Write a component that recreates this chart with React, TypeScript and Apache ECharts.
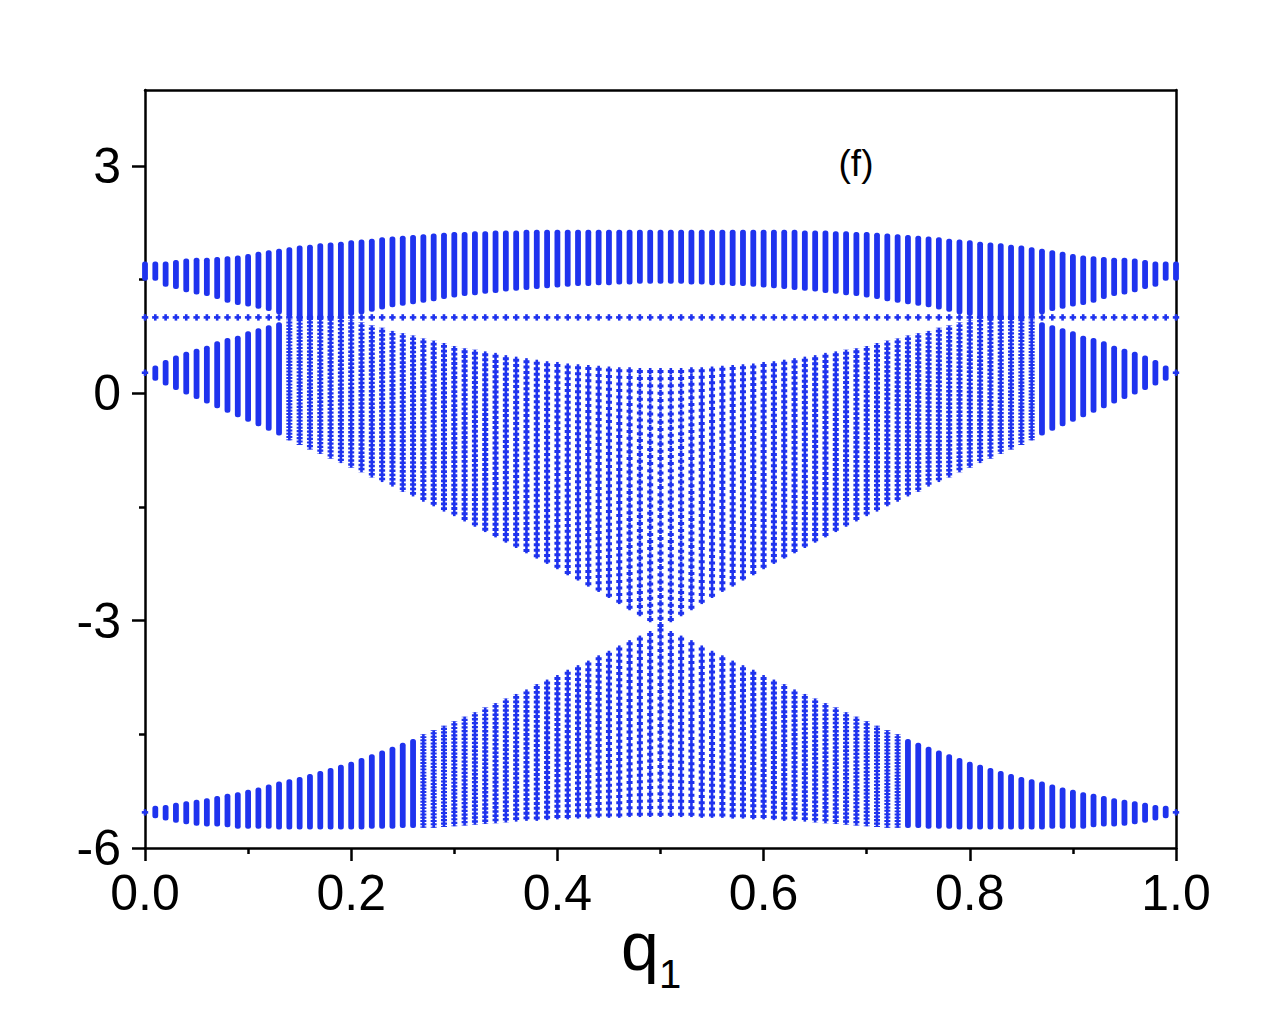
import React, { useEffect, useRef } from 'react';
import * as echarts from 'echarts';

// q1 sampling step (columns at q = 0, 0.01, ..., 1.00)
const Q_STEP = 0.01;

// Upper band (band 1): top and bottom edge per column
const B1_TOP = [
  1.70, 1.70, 1.70, 1.72, 1.74, 1.75, 1.75, 1.76, 1.77, 1.78,
  1.80, 1.83, 1.85, 1.87, 1.89, 1.91, 1.92, 1.94, 1.95, 1.96,
  1.98, 1.99, 2.00, 2.02, 2.03, 2.04, 2.05, 2.06, 2.07, 2.08,
  2.09, 2.09, 2.10, 2.10, 2.11, 2.11, 2.11, 2.12, 2.12, 2.12,
  2.12, 2.12, 2.12, 2.12, 2.12, 2.12, 2.12, 2.12, 2.12, 2.12,
  2.12,
  2.12, 2.12, 2.12, 2.12, 2.12, 2.12, 2.12, 2.12, 2.12, 2.12,
  2.12, 2.12, 2.12, 2.11, 2.11, 2.11, 2.10, 2.10, 2.09, 2.09,
  2.08, 2.07, 2.06, 2.05, 2.04, 2.03, 2.02, 2.00, 1.99, 1.98,
  1.96, 1.95, 1.94, 1.92, 1.91, 1.89, 1.87, 1.85, 1.83, 1.80,
  1.78, 1.77, 1.76, 1.75, 1.75, 1.74, 1.72, 1.70, 1.70, 1.70,
];
const B1_BOT = [
  1.52, 1.52, 1.44, 1.41, 1.37, 1.34, 1.32, 1.28, 1.23, 1.20,
  1.18, 1.15, 1.12, 1.08, 1.04, 1.00, 1.00, 1.00, 1.01, 1.03,
  1.06, 1.08, 1.11, 1.14, 1.17, 1.19, 1.21, 1.23, 1.25, 1.28,
  1.30, 1.32, 1.33, 1.35, 1.36, 1.38, 1.39, 1.40, 1.41, 1.42,
  1.43, 1.44, 1.45, 1.45, 1.46, 1.46, 1.47, 1.47, 1.48, 1.48,
  1.48,
  1.48, 1.48, 1.47, 1.47, 1.46, 1.46, 1.45, 1.45, 1.44, 1.43,
  1.42, 1.41, 1.40, 1.39, 1.38, 1.36, 1.35, 1.33, 1.32, 1.30,
  1.28, 1.25, 1.23, 1.21, 1.19, 1.17, 1.14, 1.11, 1.08, 1.06,
  1.03, 1.01, 1.00, 1.00, 1.00, 1.04, 1.08, 1.12, 1.15, 1.18,
  1.20, 1.23, 1.28, 1.32, 1.34, 1.37, 1.41, 1.44, 1.52, 1.52,
];

// Flat band
const FLAT = [
  1.00, 1.00, 1.00, 1.00, 1.00, 1.00, 1.00, 1.00, 1.00, 1.00,
  1.00, 1.00, 1.00, 1.00, 1.00, 1.00, 1.00, 1.00, 1.00, 1.00,
  1.00, 1.00, 1.00, 1.00, 1.00, 1.00, 1.00, 1.00, 1.00, 1.00,
  1.00, 1.00, 1.00, 1.00, 1.00, 1.00, 1.00, 1.00, 1.00, 1.00,
  1.00, 1.00, 1.00, 1.00, 1.00, 1.00, 1.00, 1.00, 1.00, 1.00,
  1.00,
  1.00, 1.00, 1.00, 1.00, 1.00, 1.00, 1.00, 1.00, 1.00, 1.00,
  1.00, 1.00, 1.00, 1.00, 1.00, 1.00, 1.00, 1.00, 1.00, 1.00,
  1.00, 1.00, 1.00, 1.00, 1.00, 1.00, 1.00, 1.00, 1.00, 1.00,
  1.00, 1.00, 1.00, 1.00, 1.00, 1.00, 1.00, 1.00, 1.00, 1.00,
  1.00, 1.00, 1.00, 1.00, 1.00, 1.00, 1.00, 1.00, 1.00, 1.00,
];

// Middle band (band 2)
const B2_TOP = [
  0.27, 0.33, 0.40, 0.46, 0.51, 0.55, 0.59, 0.65, 0.69, 0.72,
  0.78, 0.82, 0.86, 0.90, 0.93, 0.96, 0.98, 0.98, 0.97, 0.95,
  0.92, 0.89, 0.85, 0.82, 0.78, 0.75, 0.72, 0.68, 0.65, 0.62,
  0.58, 0.55, 0.53, 0.51, 0.49, 0.46, 0.44, 0.42, 0.40, 0.38,
  0.37, 0.35, 0.34, 0.33, 0.32, 0.31, 0.30, 0.30, 0.29, 0.29,
  0.29,
  0.29, 0.29, 0.30, 0.30, 0.31, 0.32, 0.33, 0.34, 0.35, 0.37,
  0.38, 0.40, 0.42, 0.44, 0.46, 0.49, 0.51, 0.53, 0.55, 0.58,
  0.62, 0.65, 0.68, 0.72, 0.75, 0.78, 0.82, 0.85, 0.89, 0.92,
  0.95, 0.97, 0.98, 0.98, 0.96, 0.93, 0.90, 0.86, 0.82, 0.78,
  0.72, 0.69, 0.65, 0.59, 0.55, 0.51, 0.46, 0.40, 0.33, 0.27,
];
const B2_BOT = [
  0.27, 0.20, 0.14, 0.08, 0.02, -0.04, -0.10, -0.16, -0.22, -0.28,
  -0.34, -0.40, -0.46, -0.52, -0.58, -0.64, -0.70, -0.76, -0.82, -0.88,
  -0.94, -1.00, -1.07, -1.13, -1.19, -1.26, -1.32, -1.39, -1.45, -1.52,
  -1.58, -1.65, -1.72, -1.79, -1.86, -1.93, -2.00, -2.07, -2.14, -2.21,
  -2.28, -2.36, -2.43, -2.51, -2.58, -2.66, -2.74, -2.82, -2.90, -2.98,
  -3.06,
  -2.98, -2.90, -2.82, -2.74, -2.66, -2.58, -2.51, -2.43, -2.36, -2.28,
  -2.21, -2.14, -2.07, -2.00, -1.93, -1.86, -1.79, -1.72, -1.65, -1.58,
  -1.52, -1.45, -1.39, -1.32, -1.26, -1.19, -1.13, -1.07, -1.00, -0.94,
  -0.88, -0.82, -0.76, -0.70, -0.64, -0.58, -0.52, -0.46, -0.40, -0.34,
  -0.28, -0.22, -0.16, -0.10, -0.04, 0.02, 0.08, 0.14, 0.20, 0.27,
];

// Lower band (band 3)
const B3_TOP = [
  -5.53, -5.48, -5.47, -5.44, -5.42, -5.40, -5.38, -5.35, -5.32, -5.30,
  -5.27, -5.24, -5.20, -5.16, -5.13, -5.10, -5.06, -5.02, -4.98, -4.94,
  -4.90, -4.85, -4.80, -4.75, -4.70, -4.65, -4.60, -4.54, -4.49, -4.43,
  -4.37, -4.31, -4.25, -4.19, -4.13, -4.07, -4.01, -3.95, -3.88, -3.82,
  -3.76, -3.69, -3.63, -3.57, -3.50, -3.44, -3.37, -3.30, -3.24, -3.18,
  -3.12,
  -3.18, -3.24, -3.30, -3.37, -3.44, -3.50, -3.57, -3.63, -3.69, -3.76,
  -3.82, -3.88, -3.95, -4.01, -4.07, -4.13, -4.19, -4.25, -4.31, -4.37,
  -4.43, -4.49, -4.54, -4.60, -4.65, -4.70, -4.75, -4.80, -4.85, -4.90,
  -4.94, -4.98, -5.02, -5.06, -5.10, -5.13, -5.16, -5.20, -5.24, -5.27,
  -5.30, -5.32, -5.35, -5.38, -5.40, -5.42, -5.44, -5.47, -5.48, -5.53,
];
const B3_BOT = [
  -5.53, -5.57, -5.60, -5.63, -5.65, -5.67, -5.68, -5.68, -5.69, -5.71,
  -5.71, -5.71, -5.71, -5.72, -5.72, -5.72, -5.72, -5.72, -5.72, -5.72,
  -5.72, -5.72, -5.71, -5.71, -5.71, -5.70, -5.70, -5.69, -5.69, -5.68,
  -5.67, -5.66, -5.65, -5.64, -5.63, -5.62, -5.61, -5.60, -5.60, -5.59,
  -5.58, -5.58, -5.57, -5.57, -5.56, -5.56, -5.56, -5.55, -5.55, -5.55,
  -5.55,
  -5.55, -5.55, -5.55, -5.56, -5.56, -5.56, -5.57, -5.57, -5.58, -5.58,
  -5.59, -5.60, -5.60, -5.61, -5.62, -5.63, -5.64, -5.65, -5.66, -5.67,
  -5.68, -5.69, -5.69, -5.70, -5.70, -5.71, -5.71, -5.71, -5.72, -5.72,
  -5.72, -5.72, -5.72, -5.72, -5.72, -5.72, -5.72, -5.71, -5.71, -5.71,
  -5.71, -5.69, -5.68, -5.68, -5.67, -5.65, -5.63, -5.60, -5.57, -5.53,
];

// Number of eigenvalues per column in each band (used for dot spacing)
const BAND_POINTS = [34, 1, 36, 28];

const X_TICK_LABELS = ['0.0', '0.2', '0.4', '0.6', '0.8', '1.0'];
const Y_MAJOR = [-6, -3, 0, 3];
const Y_MINOR = [-4.5, -1.5, 1.5];

const BLUE = '#1f33ee';
const FONT = '"Liberation Sans", Arial, Helvetica, sans-serif';

function buildData() {
  const bands = [
    [B1_BOT, B1_TOP],
    [FLAT, FLAT],
    [B2_BOT, B2_TOP],
    [B3_BOT, B3_TOP],
  ];
  const out: number[][] = [];
  bands.forEach(([lo, hi], b) => {
    lo.forEach((v, i) => {
      const q = +(i * Q_STEP).toFixed(2);
      out.push([q, v, hi[i], BAND_POINTS[b]]);
    });
  });
  return out;
}

function renderColumn(params: any, api: any) {
  const q = api.value(0);
  const lo = api.value(1);
  const hi = api.value(2);
  const n = api.value(3);
  const top = api.coord([q, hi]);
  const bot = api.coord([q, lo]);
  const x = top[0];
  const len = bot[1] - top[1];
  if (len < 2 || n <= 1) {
    const y = (top[1] + bot[1]) / 2;
    return {
      type: 'group',
      children: [
        { type: 'rect', shape: { x: x - 3.2, y: y - 1.3, width: 6.4, height: 2.6 }, style: { fill: BLUE } },
        { type: 'rect', shape: { x: x - 1.3, y: y - 3.2, width: 2.6, height: 6.4 }, style: { fill: BLUE } },
      ],
    };
  }
  const spacing = len / (n - 1);
  if (spacing < 3.2) {
    return {
      type: 'rect',
      shape: { x: x - 2.9, y: top[1] - 2.8, width: 5.8, height: len + 5.6, r: 2.5 },
      style: { fill: BLUE },
    };
  }
  const S = top[1] - 3.2;
  const E = bot[1] + 3.2;
  const vStyle: any = { stroke: BLUE, lineWidth: 2.6, fill: null };
  if (spacing >= 6.6) vStyle.lineDash = [6.4, spacing - 6.4];
  const arm = Math.min(3, spacing * 0.6);
  return {
    type: 'group',
    children: [
      { type: 'line', shape: { x1: x, y1: S, x2: x, y2: E }, style: vStyle },
      {
        type: 'line',
        shape: { x1: x, y1: S, x2: x, y2: E },
        style: { stroke: BLUE, lineWidth: 6, fill: null, lineDash: [arm, spacing - arm], lineDashOffset: -(3.2 - arm / 2) },
      },
    ],
  };
}

export default function App() {
  const ref = useRef<HTMLDivElement>(null);
  useEffect(() => {
    document.body.style.margin = '0';
    if (!ref.current) return;
    const chart = echarts.init(ref.current, undefined, { renderer: 'svg' });
    const axisLineStyle = { color: '#000', width: 2.5 };
    chart.setOption({
      animation: false,
      backgroundColor: '#fff',
      grid: { left: 145, right: 94, top: 90, bottom: 176, show: false },
      xAxis: [
        {
          type: 'value', min: 0, max: 1, interval: 0.2, position: 'bottom',
          axisLine: { show: true, onZero: false, lineStyle: axisLineStyle },
          axisTick: { show: true, length: 13, lineStyle: axisLineStyle },
          minorTick: { show: true, splitNumber: 2, length: 6, lineStyle: axisLineStyle },
          splitLine: { show: false },
          minorSplitLine: { show: false },
          axisLabel: {
            color: '#000', fontSize: 50, fontFamily: FONT, margin: 20,
            formatter: (v: number) => X_TICK_LABELS[Math.round(v / 0.2)] ?? '',
          },
        },
        {
          type: 'value', min: 0, max: 1, position: 'top',
          axisLine: { show: true, onZero: false, lineStyle: axisLineStyle },
          axisTick: { show: false }, axisLabel: { show: false }, splitLine: { show: false },
        },
      ],
      yAxis: [
        {
          type: 'value', min: -6, max: 4, interval: 3, position: 'left',
          axisLine: { show: true, onZero: false, lineStyle: axisLineStyle },
          axisTick: { show: true, length: 13, lineStyle: axisLineStyle, customValues: Y_MAJOR },
          splitLine: { show: false },
          axisLabel: {
            color: '#000', fontSize: 50, fontFamily: FONT, margin: 24,
            customValues: Y_MAJOR,
            formatter: (v: number) => (Y_MAJOR.includes(v) ? String(v) : ''),
          },
        },
        {
          type: 'value', min: -6, max: 4, position: 'left',
          axisLine: { show: false, onZero: false },
          axisTick: { show: true, length: 6, lineStyle: axisLineStyle, customValues: Y_MINOR },
          axisLabel: { show: false },
          splitLine: { show: false },
        },
        {
          type: 'value', min: -6, max: 4, position: 'right',
          axisLine: { show: true, onZero: false, lineStyle: axisLineStyle },
          axisTick: { show: false }, axisLabel: { show: false }, splitLine: { show: false },
        },
      ],
      series: [
        {
          type: 'custom',
          renderItem: renderColumn,
          clip: false,
          xAxisIndex: 0,
          yAxisIndex: 0,
          encode: { x: 0, y: [1, 2] },
          data: buildData(),
        },
      ],
      graphic: [
        {
          type: 'text', x: 856, y: 163,
          style: {
            text: '(f)', fill: '#000', font: `37px ${FONT}`,
            textAlign: 'center', textVerticalAlign: 'middle', align: 'center', verticalAlign: 'middle',
          },
        },
        {
          type: 'text', x: 621, y: 946,
          style: {
            text: 'q', fill: '#000', font: `68px ${FONT}`,
            textAlign: 'left', textVerticalAlign: 'middle', align: 'left', verticalAlign: 'middle',
          },
        },
        {
          type: 'text', x: 659, y: 974,
          style: {
            text: '1', fill: '#000', font: `40px ${FONT}`,
            textAlign: 'left', textVerticalAlign: 'middle', align: 'left', verticalAlign: 'middle',
          },
        },
      ],
    });
    return () => chart.dispose();
  }, []);
  return <div ref={ref} style={{ width: 1270, height: 1024 }} />;
}
